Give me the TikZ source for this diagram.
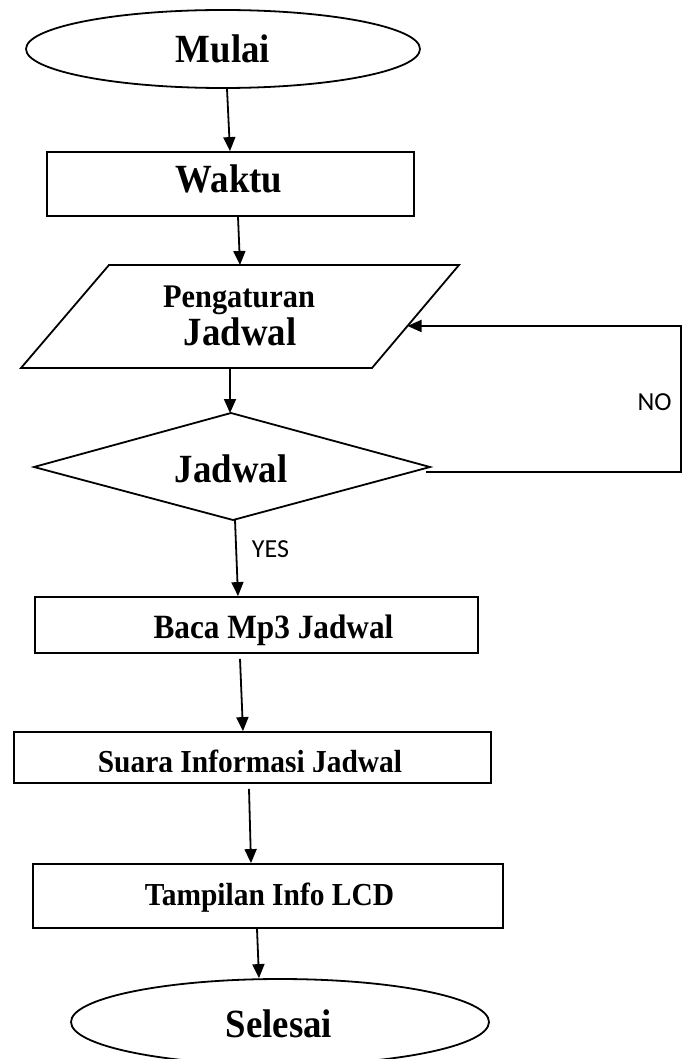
\documentclass[tikz,border=0pt]{standalone}
\usepackage{fontspec}
\setmainfont{Liberation Serif}
\newfontfamily\condfont[FakeStretch=0.92]{Liberation Serif}
\newfontfamily\lblfont{Carlito}
\usetikzlibrary{arrows.meta,calc,shapes.geometric}
\begin{document}
\begin{tikzpicture}[x=1pt,y=-1pt,
  line width=1.8pt,
  arr/.style={-{Triangle[length=14pt,width=12pt]}},
  box/.style={draw,rectangle,inner sep=0pt},
  term/.style={draw,ellipse,inner sep=0pt},
  big/.style={font=\condfont\bfseries\fontsize{40}{44}\selectfont,inner sep=0pt,anchor=base},
  mid/.style={font=\condfont\bfseries\fontsize{32}{36}\selectfont,inner sep=0pt,anchor=base},
  lbl/.style={font=\lblfont\fontsize{26}{28}\selectfont,inner sep=0pt}]
\useasboundingbox (0,0) rectangle (681,1059);

% terminals and boxes
\node[term,minimum width=394pt,minimum height=78pt] (start) at (223,49) {};
\node[big] (startT) at (223,63) {Mulai};

\node[box,minimum width=367pt,minimum height=64pt] (waktu) at (230.5,184) {};
\node[big] (waktuT) at (229,193) {Waktu};

\draw (109,265) coordinate (pTL) -- (459,265) coordinate (pTR)
  -- (372,368) coordinate (pBR) -- (21,368) coordinate (pBL) -- cycle;
\node[mid,font=\condfont\bfseries\fontsize{33}{36}\selectfont] (paraA) at (239,307) {Pengaturan};
\node[big] (paraB) at (240,345) {Jadwal};

\draw (231,413) coordinate (dT) -- (430,467) coordinate (dR)
  -- (233,520) coordinate (dB) -- (34,467) coordinate (dL) -- cycle;
\node[big] (decT) at (231,482) {Jadwal};

\node[box,minimum width=443pt,minimum height=56pt] (baca) at (256.5,625) {};
\node[mid,font=\condfont\bfseries\fontsize{34}{36}\selectfont] (bacaT) at (273.5,638) {Baca Mp3 Jadwal};

\node[box,minimum width=477pt,minimum height=51pt] (suara) at (252.5,757.5) {};
\begin{scope}
  \clip (14,732) rectangle (491,771);
  \node[mid] (suaraT) at (250,772) {Suara Informasi Jadwal};
\end{scope}

\node[box,minimum width=470pt,minimum height=64pt] (tamp) at (268,896) {};
\node[mid] (tampT) at (269.5,905) {Tampilan Info LCD};

\node[term,minimum width=418pt,minimum height=86pt] (stop) at (280,1022) {};
\node[big] (stopT) at (279,1037) {Selesai};

% connectors
\draw[arr] (227,0 |- start.south) -- (230,0 |- waktu.north);
\draw[arr] (238,0 |- waktu.south) -- (240,0 |- pTL);
\draw[arr] (230,0 |- pBL) -- (230,0 |- dT);
\draw[arr] (235,0 |- dB) -- (238,0 |- baca.north);
\draw[arr] ($(240,0 |- baca.south)+(0,5)$) -- (243,0 |- suara.north);
\draw[arr] ($(249,0 |- suara.south)+(0,5)$) -- (251,0 |- tamp.north);
\draw[arr] (257,0 |- tamp.south) -- (259,0 |- stop.north);

\coordinate (pin) at ($(pTR)!0.592!(pBR)$);
\draw[arr] ($(dR)+(-4,5)$) -- (681,472) |- (pin);

% labels
\node[lbl] (yes) at (270.5,549) {YES};
\node[lbl] (no) at (654.5,402) {NO};
\end{tikzpicture}
\end{document}
